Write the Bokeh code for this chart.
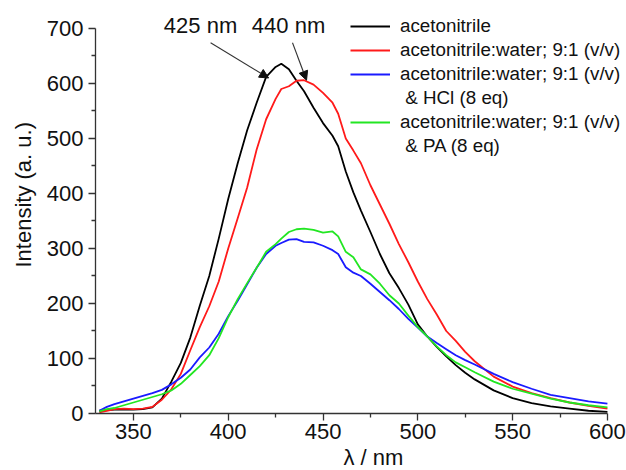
from bokeh.plotting import figure
from bokeh.models import (Range1d, FixedTicker, Legend, LegendItem, Label, Arrow,
                          NormalHead, ColumnDataSource, Title)
from bokeh.embed import file_html
from bokeh.resources import INLINE

# ---- data ----
wavelength = [332, 336, 340, 345, 350, 355, 360, 365, 370, 375, 380, 385, 390, 395,
              400, 405, 410, 415, 420, 425, 428, 432, 436, 440, 445, 450, 455, 458,
              462, 466, 470, 475, 480, 485, 490, 495, 500, 505, 510, 515, 520, 525,
              530, 540, 550, 560, 570, 580, 590, 600]

acetonitrile = [5, 6, 7, 7, 7, 8, 11, 27, 58, 92, 138, 196, 250, 318,
                390, 455, 515, 565, 612, 630, 636, 626, 605, 586, 556, 528, 505, 486,
                440, 402, 369, 330, 290, 255, 228, 198, 162, 140, 121, 104, 88, 74,
                62, 42, 28, 19, 13, 9, 5, 3]

acn_water = [2, 5, 8, 9, 8, 9, 12, 25, 44, 72, 115, 157, 195, 240,
             300, 355, 411, 480, 535, 572, 590, 595, 605, 606, 598, 583, 565, 545,
             500, 478, 455, 415, 380, 345, 308, 275, 240, 208, 180, 150, 132, 112,
             95, 67, 49, 37, 28, 20, 14, 9]

acn_water_hcl = [5, 12, 17, 22, 27, 32, 37, 43, 53, 65, 80, 102, 120, 145,
                 177, 205, 235, 265, 290, 305, 310, 316, 317, 312, 311, 305, 297, 290,
                 266, 256, 250, 236, 221, 206, 190, 172, 156, 140, 128, 117, 106, 97,
                 89, 72, 57, 45, 34, 28, 22, 18]

acn_water_pa = [4, 8, 10, 15, 20, 25, 30, 35, 42, 54, 70, 86, 106, 137,
                175, 208, 237, 265, 294, 308, 318, 330, 335, 336, 334, 329, 331, 322,
                294, 284, 262, 253, 236, 215, 200, 178, 157, 140, 122, 106, 93, 84,
                75, 58, 45, 36, 27, 20, 15, 11]

series_labels = ["acetonitrile",
                 "acetonitrile:water; 9:1 (v/v)",
                 "acetonitrile:water; 9:1 (v/v)",
                 "acetonitrile:water; 9:1 (v/v)"]
series_notes = [None, None, " & HCl (8 eq)", " & PA (8 eq)"]
series_colors = ["#000000", "#ff1a1a", "#1a1aff", "#22e622"]

x_ticks = [350, 400, 450, 500, 550, 600]
x_minor = [325, 375, 425, 475, 525, 575]
y_ticks = [0, 100, 200, 300, 400, 500, 600, 700]
y_minor = [50, 150, 250, 350, 450, 550, 650]

peak_labels = ["425 nm", "440 nm"]
peak_text_x = [385.4, 431.8]
peak_text_y = [705, 705]
arrow_start_x = [390.7, 433.9]
arrow_start_y = [674, 674]
arrow_end_x = [421.3, 441.3]
arrow_end_y = [610, 606]

FONT = "Liberation Sans"

p = figure(width=626, height=470, output_backend="svg", toolbar_location=None,
           x_range=Range1d(330, 610.06), y_range=Range1d(0, 750.9),
           min_border_left=95, min_border_right=0, min_border_top=0,
           min_border_bottom=57)
p.outline_line_color = None
p.grid.visible = False
p.background_fill_color = "white"

renderers = []
for ys, c in zip([acetonitrile, acn_water, acn_water_hcl, acn_water_pa], series_colors):
    src = ColumnDataSource(dict(x=wavelength, y=ys))
    r = p.line("x", "y", source=src, line_color=c, line_width=1.8)
    renderers.append(r)
spacer = p.line(x=[], y=[], line_alpha=0)

for ax in (p.xaxis[0], p.yaxis[0]):
    ax.axis_line_color = "#333333"
    ax.axis_line_width = 1.3
    ax.major_tick_line_color = "#333333"
    ax.minor_tick_line_color = "#333333"
    ax.major_tick_line_width = 1.3
    ax.minor_tick_line_width = 1.3
    ax.major_tick_in = 0
    ax.major_tick_out = 7
    ax.minor_tick_in = 0
    ax.minor_tick_out = 4
    ax.major_label_text_font = FONT
    ax.major_label_text_font_size = "22px"
    ax.major_label_text_color = "#111111"

p.xaxis[0].ticker = FixedTicker(ticks=x_ticks, minor_ticks=x_minor)
p.yaxis[0].ticker = FixedTicker(ticks=y_ticks, minor_ticks=y_minor)
p.xaxis[0].bounds = (330, 600)
p.yaxis[0].bounds = (0, 700)
p.xaxis[0].major_label_standoff = 3
p.yaxis[0].major_label_standoff = 5

p.add_layout(Title(text="Intensity (a. u.)", align="left", offset=146, standoff=15,
                   text_font=FONT, text_font_size="22px", text_font_style="normal",
                   text_color="#111111"), "left")
p.add_layout(Title(text="λ / nm", align="left", offset=248, standoff=2,
                   text_font=FONT, text_font_size="22px", text_font_style="normal",
                   text_color="#111111"), "below")

items = []
for lab, note, r in zip(series_labels, series_notes, renderers):
    items.append(LegendItem(label=lab, renderers=[r]))
    if note is not None:
        items.append(LegendItem(label=note, renderers=[spacer]))
legend = Legend(items=items, location=(255, 255))
legend.label_text_font = FONT
legend.label_text_font_size = "18.8px"
legend.label_text_color = "#111111"
legend.glyph_width = 40
legend.glyph_height = 24
legend.label_height = 24
legend.label_standoff = 10
legend.spacing = 0
legend.padding = 0
legend.margin = 0
legend.border_line_alpha = 0
legend.background_fill_alpha = 0
p.add_layout(legend)

for t, tx, ty in zip(peak_labels, peak_text_x, peak_text_y):
    p.add_layout(Label(x=tx, y=ty, text=t, text_align="center", text_baseline="middle",
                       text_font=FONT, text_font_size="22px", text_color="#111111"))

for sx, sy, ex, ey in zip(arrow_start_x, arrow_start_y, arrow_end_x, arrow_end_y):
    p.add_layout(Arrow(x_start=sx, y_start=sy, x_end=ex, y_end=ey,
                       line_color="#333333", line_width=1.1,
                       end=NormalHead(size=9, fill_color="#111111", line_color="#111111")))

open("out.html", "w").write(file_html(p, INLINE))
